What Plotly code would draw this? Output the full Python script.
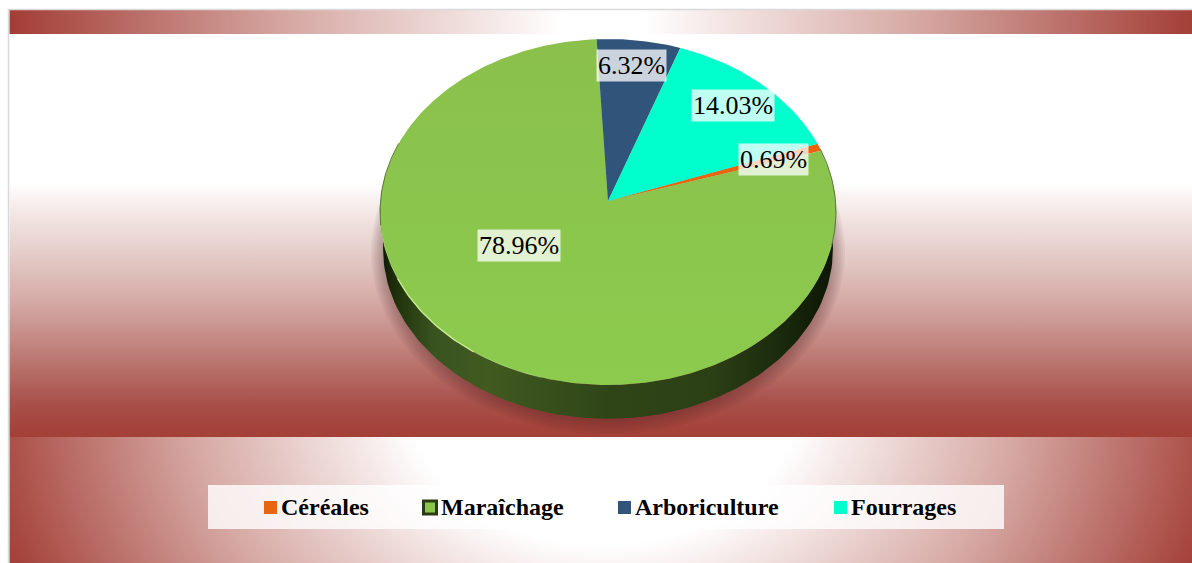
import numpy as np
import plotly.graph_objects as go

categories = ['Céréales', 'Maraîchage', 'Arboriculture', 'Fourrages']
shares = [0.69, 78.96, 6.32, 14.03]
share_labels = ['0.69%', '78.96%', '6.32%', '14.03%']
slice_colors = ['#e8640e', '#8bc64c', '#30547a', '#00ffcc']

label_x = [773.5, 518.5, 631.5, 733]
label_y = [159, 245, 65, 105]
legend_swatch_x = [270.5, 430, 624.5, 840.5]
legend_text_x = [279, 439, 633, 849]

W, H = 1192, 563
RED = '#a33f37'
CX, APEX_Y = 608, 201
FIRST_ANGLE = 70.2


def rim(angles, dy=0.0, grow=0.0):
    """Perspective circle: the apex sits above the middle of the ellipse."""
    a = np.radians(angles)
    den = 1 + 0.0636 * np.cos(a)
    return (CX + (227.5 + grow) * np.sin(a) / den,
            APEX_Y + dy - (172.3 + grow) * np.cos(a) / den)


def band(x, y, t):
    return go.Heatmap(x=x, y=y, z=t, zmin=0, zmax=1, zsmooth='best', showscale=False,
                      hoverinfo='skip', colorscale=[[0, '#ffffff'], [0.5, '#d6a8a3'], [1, RED]])


fig = go.Figure()

# top and bottom strips of the chart area
gx = np.arange(11.5, W + 4, 4)
gy = np.arange(12, 34, 4)
xx, yy = np.meshgrid(gx, gy)
fig.add_trace(band(gx, gy, np.clip((np.abs(xx - 603) - 40) / 550, 0, 1)))

gy = np.arange(439, H + 4, 4)
xx, yy = np.meshgrid(gx, gy)
r = np.hypot(xx - 603, (yy - 400) * 1.34)
fig.add_trace(band(gx, gy, np.clip((r - 194) / 438, 0, 1)))

# middle strip
fig.add_trace(go.Scatter(x=[9.5, W, W, 9.5, 9.5], y=[183, 183, 437, 437, 183], mode='lines',
                         line=dict(width=0), fill='toself', hoverinfo='skip',
                         fillgradient=dict(type='vertical', start=183, stop=437,
                                           colorscale=[[0, '#ffffff'], [0.106, '#f4e9e7'],
                                                       [0.264, '#e6cfcb'], [0.47, '#d4a9a5'],
                                                       [0.657, '#c0807a'], [0.866, '#a9504a'],
                                                       [1, RED]])))

# soft shadow under the pie
ring = np.linspace(0, 360, 140)
for grow in [12, 10, 8, 6, 4, 2]:
    x, y = rim(ring, 37 + grow * 0.2, grow - 3)
    fig.add_trace(go.Scatter(x=x, y=y, mode='lines', line=dict(width=0),
                             fill='toself', fillcolor='rgba(50,15,10,0.05)', hoverinfo='skip'))

# side wall
t = np.linspace(80, 280, 120)
x0, y0 = rim(t)
x1, y1 = rim(t[::-1], 37, -3)
fig.add_trace(go.Scatter(x=np.r_[x0, x1], y=np.r_[y0, y1], mode='lines', line=dict(width=0),
                         fill='toself', hoverinfo='skip',
                         fillgradient=dict(type='horizontal', start=380, stop=836,
                                           colorscale=[[0, '#0e1a06'], [0.05, '#25380f'],
                                                       [0.12, '#3a5420'], [0.24, '#405a20'],
                                                       [0.5, '#2f4517'], [0.72, '#2c4016'],
                                                       [0.88, '#1a2a0c'], [1, '#0c1505']])))

# top face, one wedge per share
start = FIRST_ANGLE
for name, share, color in zip(categories, shares, slice_colors):
    stop = start + share * 3.6
    x, y = rim(np.linspace(start, stop, max(int(share * 6), 6)))
    wedge = go.Scatter(x=np.r_[CX, x, CX], y=np.r_[APEX_Y, y, APEX_Y], mode='lines', name=name,
                       line=dict(width=0), fill='toself', fillcolor=color, hoverinfo='skip')
    if name == 'Maraîchage':
        wedge.fillgradient = dict(type='vertical', start=39, stop=385,
                                  colorscale=[[0, '#8ac04b'], [1, '#8ccb4e']])
    fig.add_trace(wedge)
    start = stop

# highlight on the lower left edge, thin dark edges at the sides
for a, b, hl, width in [(196, 214, 'rgba(195,232,135,0.45)', 1),
                        (214, 244, 'rgba(205,238,150,0.95)', 1.4),
                        (244, 262, 'rgba(195,232,135,0.45)', 1)]:
    x, y = rim(np.linspace(a, b, 30))
    fig.add_trace(go.Scatter(x=x, y=y, mode='lines', line=dict(color=hl, width=width), hoverinfo='skip'))
for a, b in [(72, 105), (262, 290)]:
    x, y = rim(np.linspace(a, b, 30))
    fig.add_trace(go.Scatter(x=x, y=y, mode='lines', line=dict(color='#5f7d3a', width=1), hoverinfo='skip'))

# legend strip
fig.add_trace(go.Scatter(x=[208, 1004, 1004, 208, 208], y=[485, 485, 529, 529, 485], mode='lines',
                         line=dict(width=0), fill='toself', fillcolor='rgba(255,255,255,0.8)',
                         hoverinfo='skip'))
for i, name in enumerate(categories):
    outline = dict(color='#2a3a14', width=3) if name == 'Maraîchage' else dict(width=0)
    fig.add_trace(go.Scatter(x=[legend_swatch_x[i]], y=[507.5], mode='markers', hoverinfo='skip',
                             marker=dict(symbol='square', size=13, color=slice_colors[i], line=outline)))
    fig.add_annotation(x=legend_text_x[i], y=507, text=f'<b>{name}</b>', showarrow=False, xanchor='left',
                       font=dict(family='Liberation Serif', size=24, color='#000000'))

for i, text in enumerate(share_labels):
    fig.add_annotation(x=label_x[i], y=label_y[i], text=text, showarrow=False, borderpad=1,
                       bgcolor='rgba(255,255,255,0.75)',
                       font=dict(family='Liberation Serif', size=26, color='#000000'))

# frame of the pasted picture
fig.add_trace(go.Scatter(x=[8.5, 8.5, W], y=[H, 9.5, 9.5], mode='lines',
                         line=dict(color='#d9d9d9', width=1.5), hoverinfo='skip'))

fig.update_xaxes(visible=False, range=[0, W])
fig.update_yaxes(visible=False, range=[H, 0])
fig.update_layout(width=W, height=H, margin=dict(l=0, r=0, t=0, b=0), showlegend=False,
                  paper_bgcolor='white', plot_bgcolor='white')
fig.write_html("out.html", config=dict(displayModeBar=False),
               post_script="document.body.style.margin='0';document.body.style.overflow='hidden';")
